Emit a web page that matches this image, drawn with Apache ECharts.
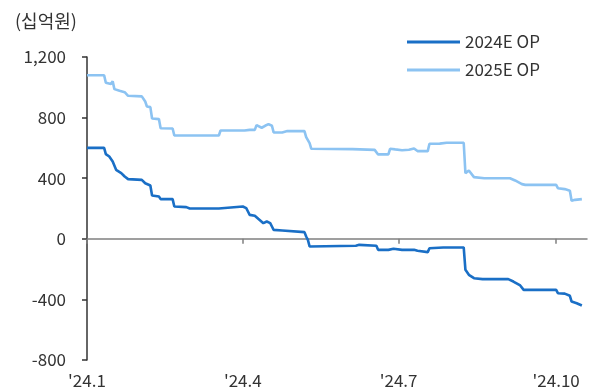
<!DOCTYPE html>
<html>
<head>
<meta charset="utf-8">
<script src="https://cdn.jsdelivr.net/npm/echarts@6/dist/echarts.min.js"></script>
<style>
html,body{margin:0;padding:0;background:#fff;}
#chart{width:592px;height:392px;}
</style>
</head>
<body>
<div id="chart"></div>
<script>
var unitLabel = '(십억원)';
var seriesNames = ['2024E OP', '2025E OP'];
var tickDates = ['2024-01-01', '2024-04-01', '2024-07-01', '2024-10-01'];
var tickLabels = ["'24.1", "'24.4", "'24.7", "'24.10"];
var xMin = '2024-01-01';
var xMax = '2024-10-19';

var op2024 = [
  ['2024-01-01', 600], ['2024-01-11', 600], ['2024-01-12', 559], ['2024-01-14', 543],
  ['2024-01-16', 510], ['2024-01-18', 455], ['2024-01-21', 434], ['2024-01-23', 411],
  ['2024-01-25', 394], ['2024-01-26', 389], ['2024-02-02', 389], ['2024-02-04', 367],
  ['2024-02-07', 352], ['2024-02-08', 286], ['2024-02-12', 279], ['2024-02-13', 262],
  ['2024-02-20', 262], ['2024-02-21', 213], ['2024-02-28', 209], ['2024-03-01', 200],
  ['2024-03-18', 200], ['2024-03-19', 213], ['2024-04-01', 213], ['2024-04-03', 202],
  ['2024-04-04', 180], ['2024-04-05', 158], ['2024-04-08', 152], ['2024-04-10', 132],
  ['2024-04-13', 103], ['2024-04-15', 114], ['2024-04-17', 103], ['2024-04-18', 81],
  ['2024-04-19', 59], ['2024-04-24', 55], ['2024-04-25', 44], ['2024-05-07', 44],
  ['2024-05-08', 15], ['2024-05-09', -7], ['2024-05-10', -51], ['2024-06-06', -46],
  ['2024-06-08', -40], ['2024-06-18', -46], ['2024-06-19', -73], ['2024-06-25', -73],
  ['2024-06-28', -66], ['2024-07-03', -73], ['2024-07-10', -72], ['2024-07-12', -79],
  ['2024-07-13', -88], ['2024-07-18', -88], ['2024-07-19', -62], ['2024-07-27', -57],
  ['2024-08-08', -57], ['2024-08-09', -205], ['2024-08-11', -238], ['2024-08-14', -260],
  ['2024-08-19', -266], ['2024-09-03', -266], ['2024-09-06', -282], ['2024-09-10', -308],
  ['2024-09-12', -337], ['2024-10-01', -337], ['2024-10-02', -359], ['2024-10-06', -362],
  ['2024-10-09', -376], ['2024-10-10', -414], ['2024-10-13', -425], ['2024-10-16', -440]
];

var op2025 = [
  ['2024-01-01', 1080], ['2024-01-11', 1080], ['2024-01-12', 1030], ['2024-01-15', 1022],
  ['2024-01-16', 1040], ['2024-01-17', 988], ['2024-01-20', 977], ['2024-01-23', 968],
  ['2024-01-25', 944], ['2024-02-02', 940], ['2024-02-04', 906], ['2024-02-05', 873],
  ['2024-02-07', 869], ['2024-02-08', 794], ['2024-02-12', 790], ['2024-02-13', 730],
  ['2024-02-20', 728], ['2024-02-21', 682], ['2024-03-18', 682], ['2024-03-19', 715],
  ['2024-04-02', 715], ['2024-04-03', 724], ['2024-04-05', 719], ['2024-04-08', 719],
  ['2024-04-09', 750], ['2024-04-12', 733], ['2024-04-14', 746], ['2024-04-16', 757],
  ['2024-04-18', 746], ['2024-04-19', 702], ['2024-04-24', 702], ['2024-04-25', 693],
  ['2024-04-27', 711], ['2024-05-07', 711], ['2024-05-08', 671], ['2024-05-10', 632],
  ['2024-05-11', 594], ['2024-06-04', 592], ['2024-06-05', 587], ['2024-06-17', 587],
  ['2024-06-19', 557], ['2024-06-25', 557], ['2024-06-26', 594], ['2024-06-29', 590],
  ['2024-07-03', 585], ['2024-07-07', 588], ['2024-07-10', 596], ['2024-07-12', 579],
  ['2024-07-18', 579], ['2024-07-19', 627], ['2024-07-25', 628], ['2024-07-29', 634],
  ['2024-08-08', 634], ['2024-08-09', 433], ['2024-08-11', 451], ['2024-08-14', 407],
  ['2024-08-20', 400], ['2024-09-04', 400], ['2024-09-07', 385], ['2024-09-11', 361],
  ['2024-09-13', 356], ['2024-10-01', 356], ['2024-10-02', 334], ['2024-10-06', 328],
  ['2024-10-09', 317], ['2024-10-10', 251], ['2024-10-12', 257], ['2024-10-16', 262]
];

var yMin = -800, yMax = 1200, yInterval = 400;

function toTime(s) {
  var p = s.split('-');
  return Date.UTC(+p[0], +p[1] - 1, +p[2]);
}
var tickTimes = tickDates.map(toTime);
function toPoints(arr) { return arr.map(function (p) { return [toTime(p[0]), p[1]]; }); }
function labelFor(v) {
  var n = Number(v);
  for (var i = 0; i < tickTimes.length; i++) {
    if (Math.abs(tickTimes[i] - n) < 43200000) return tickLabels[i];
  }
  return '';
}

var FONT = '"Noto Sans CJK KR", "Noto Sans", sans-serif';
var chart = echarts.init(document.getElementById('chart'), null, {renderer: 'canvas'});
chart.setOption({
  animation: false,
  backgroundColor: '#ffffff',
  textStyle: {fontFamily: FONT},
  grid: {left: 87, right: 5, top: 57, bottom: 32, containLabel: false, outerBoundsMode: 'none'},
  graphic: [{
    type: 'text', left: 15, top: 12,
    style: {text: unitLabel, fontSize: 18, fill: '#333', fontFamily: FONT}
  }],
  legend: {
    orient: 'vertical', left: 407, top: 32, padding: 0,
    icon: 'rect',
    itemWidth: 53, itemHeight: 3, itemGap: 8,
    textStyle: {fontSize: 17, lineHeight: 20, color: '#333', fontFamily: FONT},
    data: seriesNames
  },
  xAxis: [{
    type: 'value', position: 'bottom',
    min: toTime(xMin), max: toTime(xMax),
    axisLine: {onZero: true, lineStyle: {color: '#808080', width: 1.5}},
    axisTick: {show: true, length: 5, customValues: tickTimes, lineStyle: {color: '#808080', width: 1.5}},
    axisLabel: {show: false},
    splitLine: {show: false}
  }, {
    type: 'value', position: 'bottom',
    min: toTime(xMin), max: toTime(xMax),
    axisLine: {show: false, onZero: false},
    axisTick: {show: false},
    axisLabel: {
      show: true,
      customValues: tickTimes,
      margin: 12,
      fontSize: 17, color: '#333', fontFamily: FONT,
      formatter: labelFor
    },
    splitLine: {show: false}
  }],
  yAxis: {
    type: 'value', min: yMin, max: yMax, interval: yInterval,
    axisLine: {show: true, lineStyle: {color: '#333', width: 1.5}},
    axisTick: {show: true, length: 5, lineStyle: {color: '#333', width: 1.5}},
    axisLabel: {margin: 21, fontSize: 17, color: '#333', fontFamily: FONT},
    splitLine: {show: false}
  },
  series: [
    {
      name: seriesNames[0], type: 'line', data: toPoints(op2024),
      symbol: 'none', color: '#1a6fc6',
      lineStyle: {width: 2.6, color: '#1a6fc6'}
    },
    {
      name: seriesNames[1], type: 'line', data: toPoints(op2025),
      symbol: 'none', color: '#8cc3f2',
      lineStyle: {width: 2.6, color: '#8cc3f2'}
    }
  ]
});
</script>
</body>
</html>
